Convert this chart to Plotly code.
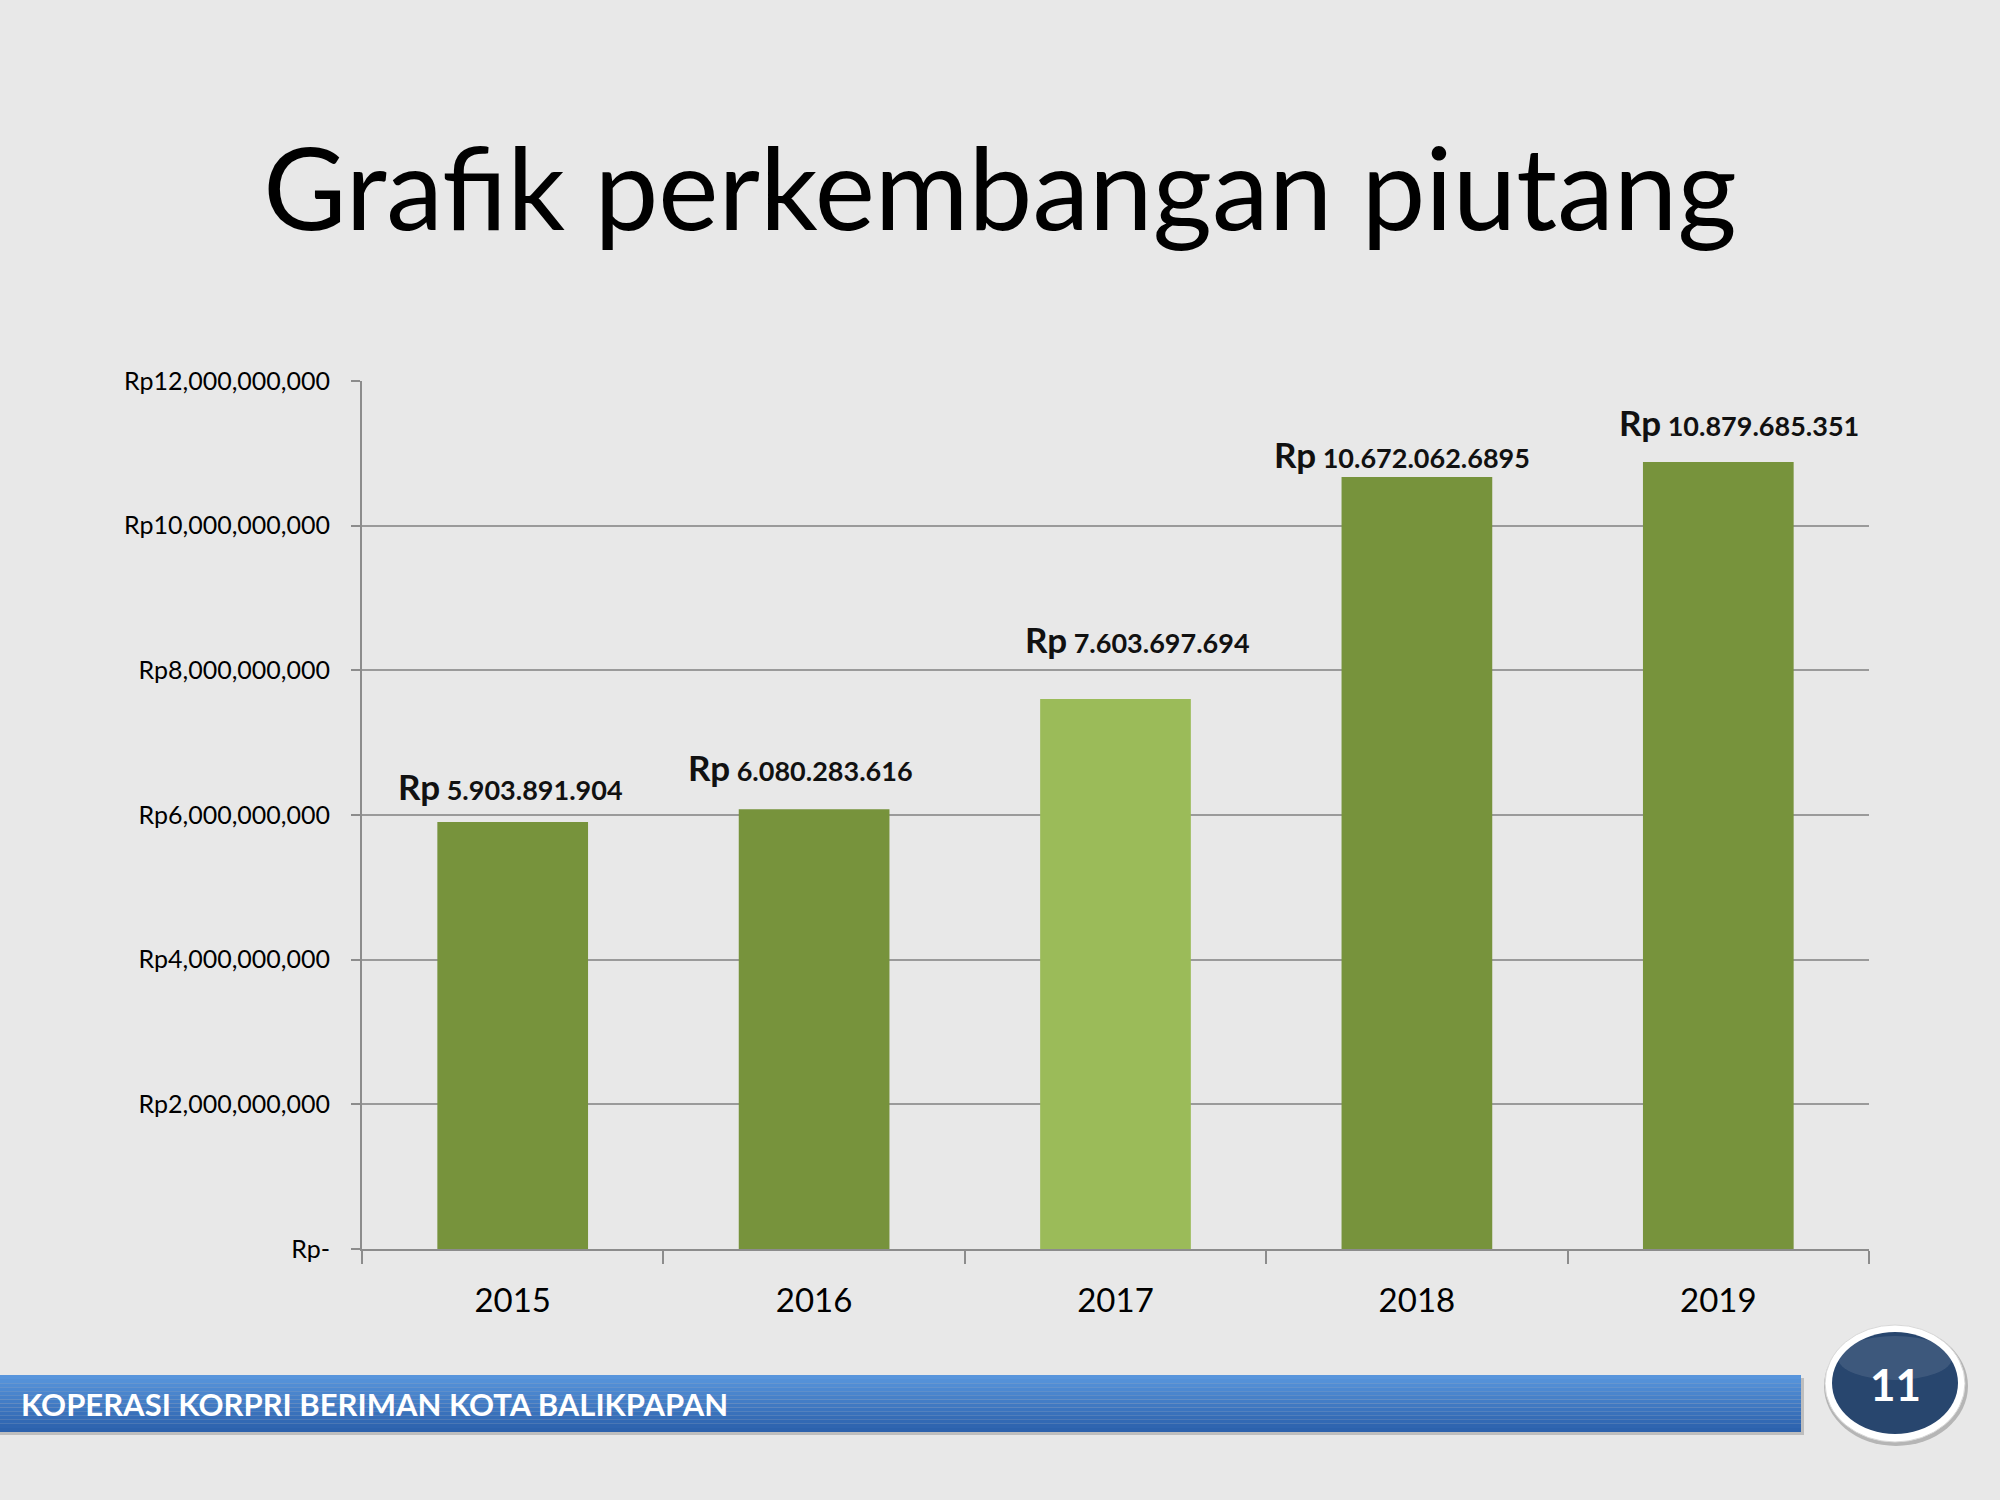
import plotly.graph_objects as go

# ---- data ----
years = ["2015", "2016", "2017", "2018", "2019"]
piutang = [5903891904, 6080283616, 7603697694, 10672062689.5, 10879685351]
label_numbers = ["5.903.891.904", "6.080.283.616", "7.603.697.694", "10.672.062.6895", "10.879.685.351"]
ytick_vals = [0, 2e9, 4e9, 6e9, 8e9, 10e9, 12e9]
ytick_text = ["Rp-", "Rp2,000,000,000", "Rp4,000,000,000", "Rp6,000,000,000",
              "Rp8,000,000,000", "Rp10,000,000,000", "Rp12,000,000,000"]
title_text = "Grafik perkembangan piutang"
footer_text = "KOPERASI KORPRI BERIMAN KOTA BALIKPAPAN"
page_number = "11"

# ---- style ----
W, H = 2000, 1500
L, R, T, B = 362, 131, 381, 251
PW, PH = W - L - R, H - T - B
FONT = "Lato, 'Open Sans', sans-serif"
BG = "#e8e8e8"
bar_colors = ["#77933c", "#77933c", "#9bbb59", "#77933c", "#77933c"]
label_xshift = [-2, -14, 22, -15, 21]
label_yshift = [36, 42, 60, 23, 40]


def px(x):
    return (x - L) / PW


def py(y):
    return (H - B - y) / PH


fig = go.Figure()
fig.add_trace(go.Bar(x=years, y=piutang, marker=dict(color=bar_colors, line=dict(width=0)),
                     hoverinfo="skip"))

annotations = []
for i, (v, t, dx, dy) in enumerate(zip(piutang, label_numbers, label_xshift, label_yshift)):
    annotations.append(dict(
        x=i, y=v, xref="x", yref="y", showarrow=False,
        text="<b><span style='font-size:35px'>Rp</span> " + t + "</b>",
        font=dict(family=FONT, size=27, color="#111111"),
        xanchor="center", yanchor="middle", xshift=dx, yshift=dy))

shapes = []
# footer bar gradient (strips)
top_c = (0x58, 0x95, 0xdc)
bot_c = (0x2c, 0x62, 0xad)
y0f, y1f = 1375, 1432
n = 14
shapes.append(dict(type="rect", xref="paper", yref="paper", x0=px(0), x1=px(1804),
                   y0=py(1435), y1=py(1378), fillcolor="rgba(0,0,0,0.18)", line=dict(width=0), layer="below"))
for k in range(n):
    f = k / (n - 1)
    c = tuple(int(top_c[j] + (bot_c[j] - top_c[j]) * f) for j in range(3))
    ya = y0f + (y1f - y0f) * k / n
    yb = y0f + (y1f - y0f) * (k + 1) / n
    shapes.append(dict(type="rect", xref="paper", yref="paper", x0=px(0), x1=px(1801),
                       y0=py(yb), y1=py(ya), fillcolor="rgb(%d,%d,%d)" % c,
                       line=dict(width=0), layer="above"))

# badge
shapes.append(dict(type="circle", xref="paper", yref="paper", x0=px(1824), x1=px(1968),
                   y0=py(1446), y1=py(1326), fillcolor="rgba(0,0,0,0.22)", line=dict(width=0)))
shapes.append(dict(type="circle", xref="paper", yref="paper", x0=px(1825), x1=px(1965),
                   y0=py(1442), y1=py(1325), fillcolor="#ffffff", line=dict(color="#d8d8d8", width=1)))
shapes.append(dict(type="circle", xref="paper", yref="paper", x0=px(1832), x1=px(1958),
                   y0=py(1434), y1=py(1332), fillcolor="#28466e", line=dict(width=0)))
shapes.append(dict(type="circle", xref="paper", yref="paper", x0=px(1838), x1=px(1952),
                   y0=py(1380), y1=py(1336), fillcolor="rgba(255,255,255,0.10)", line=dict(width=0)))

annotations.append(dict(xref="paper", yref="paper", x=px(19), y=py(1404), xanchor="left", yanchor="middle",
                        showarrow=False, text="<b>" + footer_text + "</b>",
                        font=dict(family=FONT, size=31, color="white")))
annotations.append(dict(xref="paper", yref="paper", x=px(1895), y=py(1384), xanchor="center", yanchor="middle",
                        showarrow=False, text="<b>" + page_number + "</b>",
                        font=dict(family=FONT, size=44, color="white")))

fig.update_layout(
    width=W, height=H,
    margin=dict(l=L, r=R, t=T, b=B, pad=0),
    paper_bgcolor=BG, plot_bgcolor="rgba(0,0,0,0)",
    bargap=0.5, showlegend=False,
    title=dict(text=title_text, x=(1000 - L) / PW, xanchor="center", xref="paper", y=1 - 190 / H,
               yanchor="middle", yref="container", font=dict(family=FONT, size=114, color="#000000")),
    font=dict(family=FONT, color="#000000"),
    shapes=shapes, annotations=annotations,
)
fig.update_yaxes(range=[0, 12e9], tickvals=ytick_vals, ticktext=ytick_text,
                 tickfont=dict(family=FONT, size=25, color="#000000"),
                 showgrid=True, gridcolor="#9a9a9a", gridwidth=2,
                 showline=True, linecolor="#8c8c8c", linewidth=2,
                 ticks="outside", ticklen=9, tickcolor="#8c8c8c", tickwidth=2,
                 ticklabelstandoff=16, zeroline=False, fixedrange=True)
fig.update_xaxes(type="category", categoryorder="array", categoryarray=years, range=[-0.5, 4.5],
                 tickangle=0, tickfont=dict(family=FONT, size=33, color="#000000"),
                 showline=True, linecolor="#8c8c8c", linewidth=2,
                 ticks="outside", tickson="boundaries", ticklen=13, tickcolor="#8c8c8c", tickwidth=2,
                 ticklabelstandoff=21, showgrid=False, fixedrange=True)

fig.write_html("out.html", config={"displayModeBar": False},
               post_script="document.body.style.margin='0';document.body.style.background='" + BG + "';")
